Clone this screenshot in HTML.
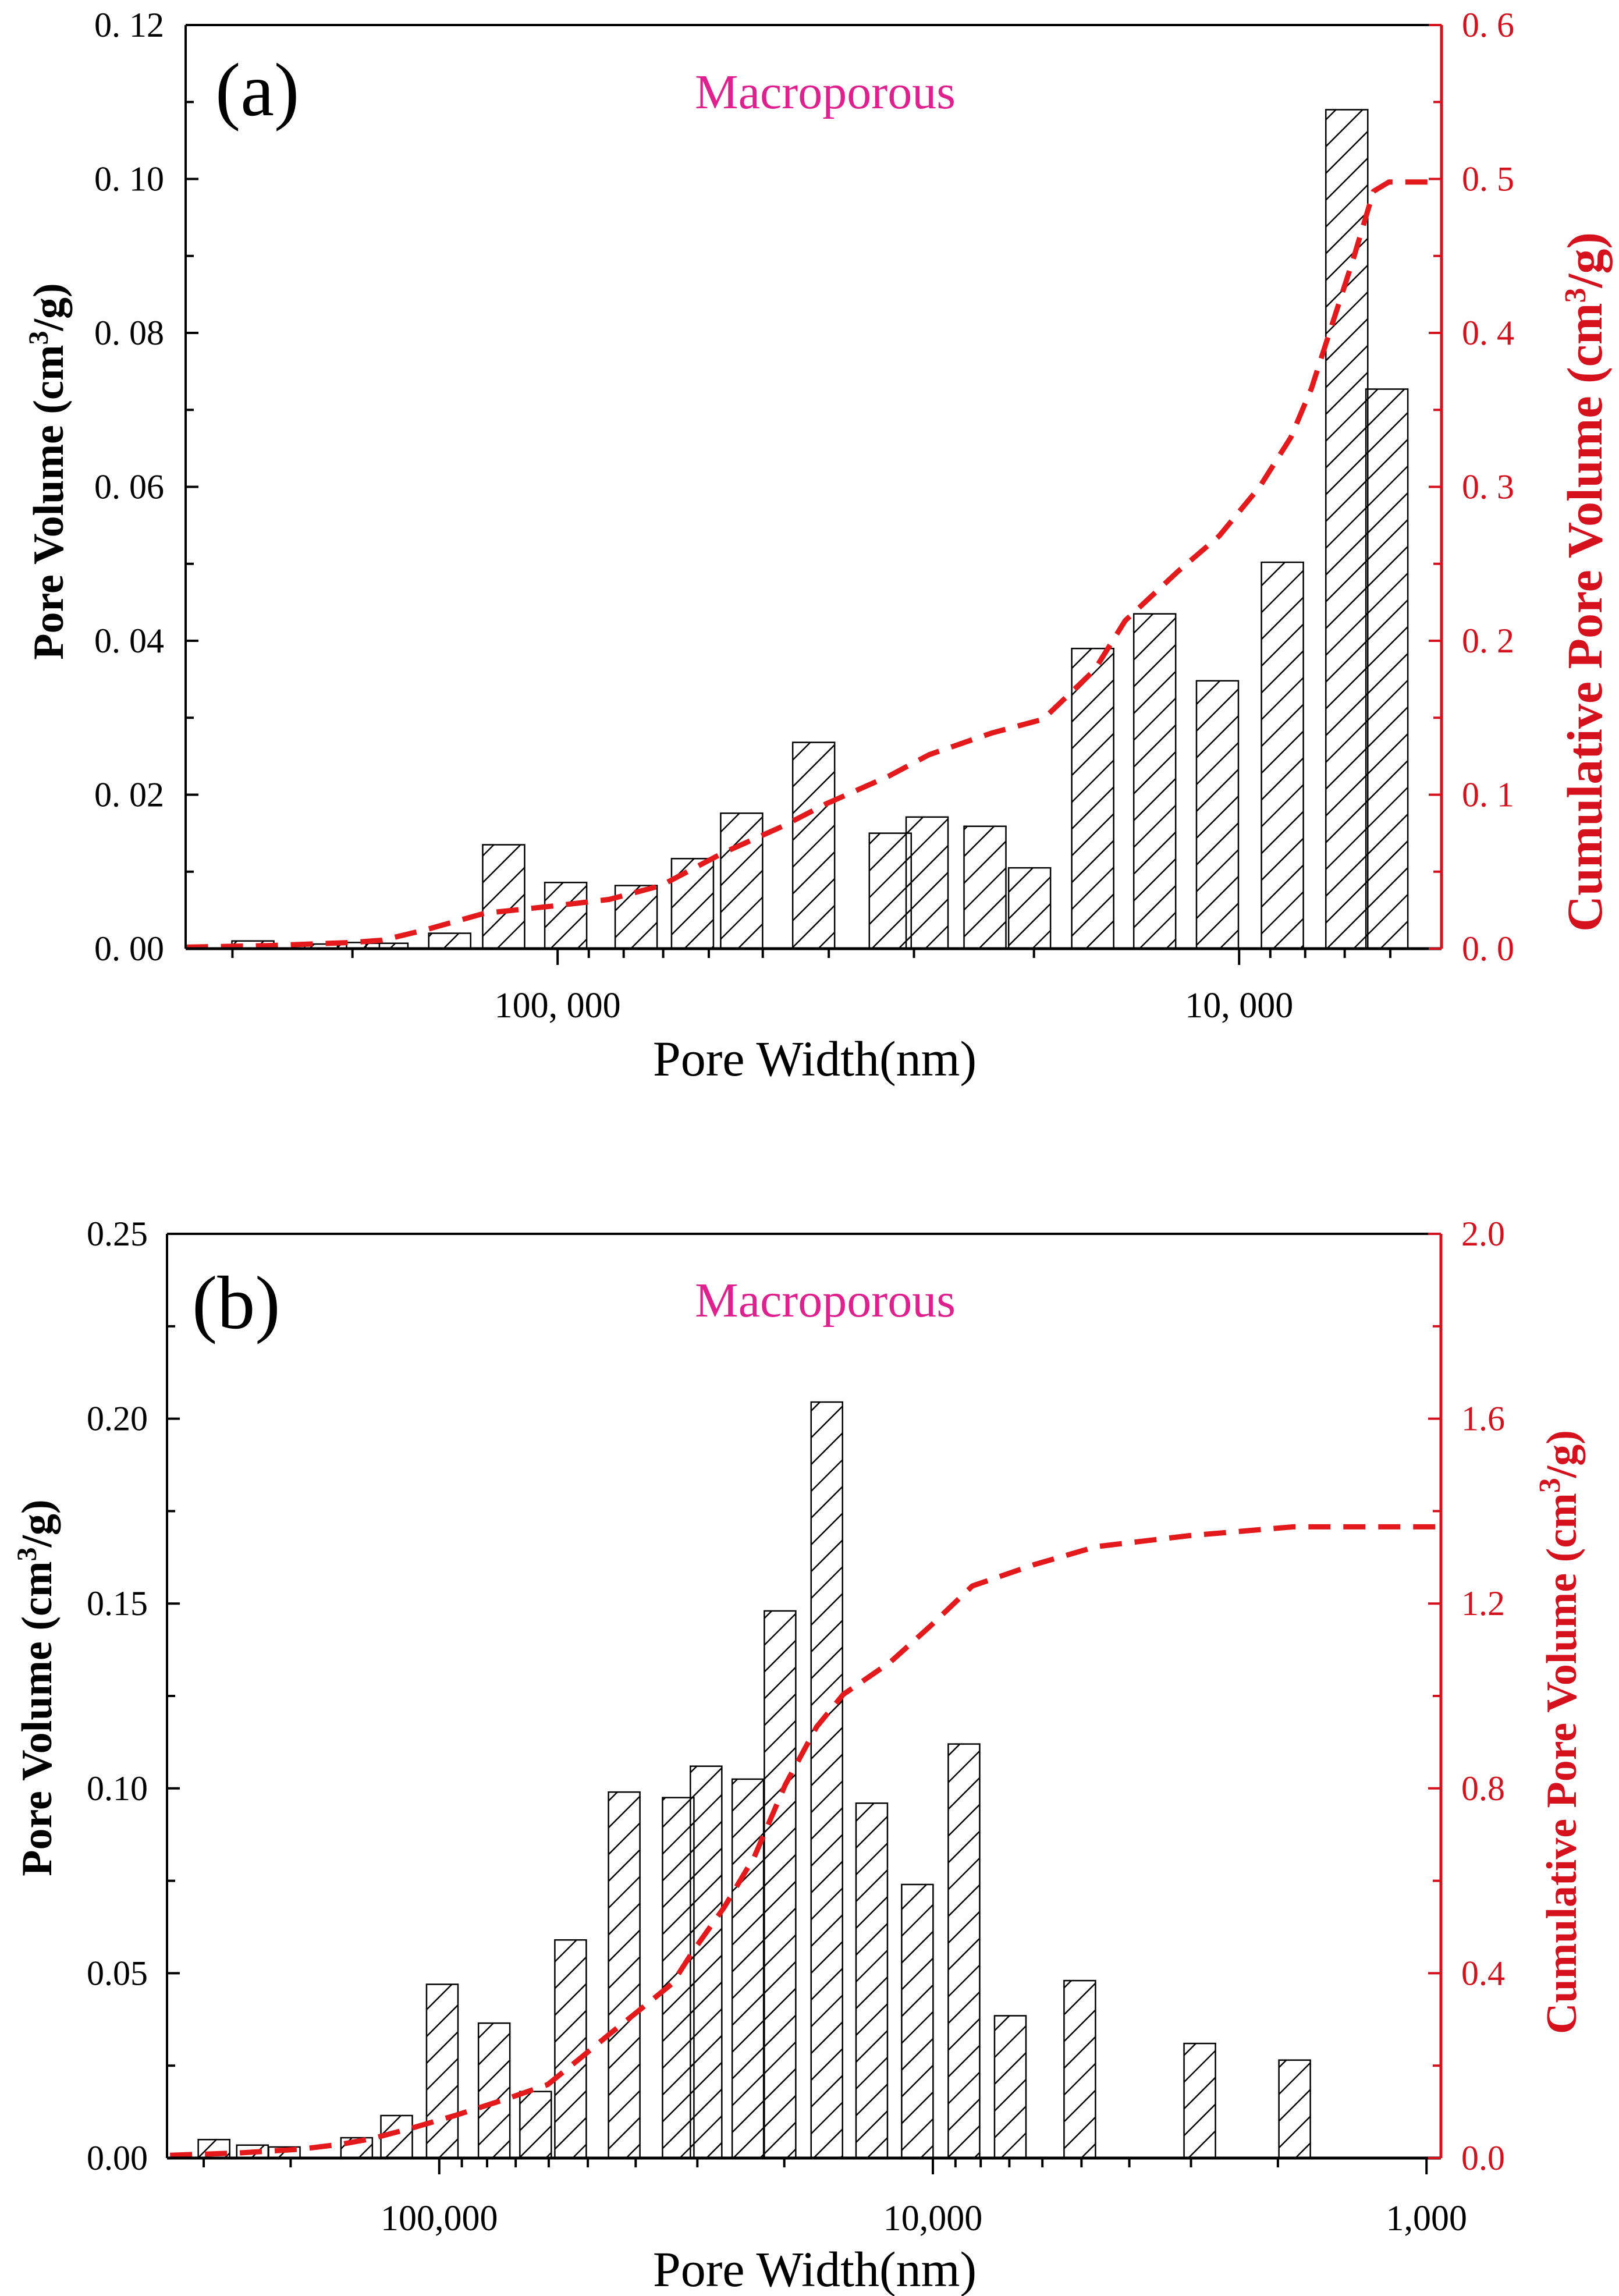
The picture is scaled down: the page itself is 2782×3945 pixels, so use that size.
<!DOCTYPE html>
<html><head><meta charset="utf-8"><style>
html,body{margin:0;padding:0;background:#fff;}
svg{display:block;font-family:"Liberation Serif","Times New Roman",serif;}
</style></head><body>
<svg id="fig" width="2782" height="3945" viewBox="0 0 2782 3945" xmlns="http://www.w3.org/2000/svg">
<defs>
<pattern id="hatch" patternUnits="userSpaceOnUse" width="46" height="46">
<line x1="-2" y1="48" x2="48" y2="-2" stroke="#000" stroke-width="2.5"/>
<line x1="-25" y1="25" x2="25" y2="-25" stroke="#000" stroke-width="2.5"/>
<line x1="21" y1="71" x2="71" y2="21" stroke="#000" stroke-width="2.5"/>
</pattern>
</defs>
</svg>
<script>
// ---- Panel (a) data ----
const widthsA = [280000,219000,196000,178000,144000,120000,97300,76700,63400,53700,42100,32500,28700,23600,20300,16400,13300,10760,8640,6950,6070];
const volumesA = [0.001,0.0006,0.0008,0.0007,0.002,0.0135,0.0086,0.0082,0.0117,0.0176,0.0268,0.0150,0.0171,0.0159,0.0105,0.0390,0.0435,0.0348,0.0502,0.1090,0.0727];
const cumWidthsA = [351000,265000,201000,181000,157000,128000,100000,84000,70500,57300,46500,40400,32700,28500,23100,19400,16300,14700,12300,10700,9330,8400,7830,7310,6810,6350,6030,5070];
const cumValuesA = [0.001,0.002,0.004,0.0055,0.012,0.023,0.028,0.032,0.041,0.062,0.080,0.094,0.112,0.126,0.140,0.149,0.181,0.213,0.245,0.268,0.300,0.332,0.364,0.405,0.447,0.492,0.498,0.498];
const leftTicksA = [0,0.02,0.04,0.06,0.08,0.10,0.12];
const leftLabelsA = ["0. 00","0. 02","0. 04","0. 06","0. 08","0. 10","0. 12"];
const rightTicksA = [0,0.1,0.2,0.3,0.4,0.5,0.6];
const rightLabelsA = ["0. 0","0. 1","0. 2","0. 3","0. 4","0. 5","0. 6"];
const xMajorA = [100000,10000];
const xLabelsA = ["100, 000","10, 000"];

// ---- Panel (b) data ----
const widthsB = [286000,239000,206000,147000,122000,98600,77400,63800,54200,42200,32800,28800,23700,20400,16400,13300,10750,8650,6970,5040,2880,1850];
const volumesB = [0.005,0.0035,0.003,0.0055,0.0115,0.047,0.0365,0.018,0.059,0.099,0.0975,0.106,0.1025,0.148,0.2045,0.096,0.074,0.112,0.0385,0.048,0.031,0.0265];
const cumWidthsB = [351000,256000,192000,158000,137000,112700,93000,73100,60300,52100,45100,39000,33700,30600,26500,23000,19900,17200,15200,12200,10100,8320,6240,4670,3020,1860,935];
const cumValuesB = [0.006,0.011,0.019,0.03,0.042,0.066,0.092,0.128,0.159,0.214,0.269,0.323,0.378,0.448,0.542,0.652,0.808,0.933,1.003,1.073,1.152,1.238,1.284,1.323,1.347,1.366,1.366];
const leftTicksB = [0,0.05,0.10,0.15,0.20,0.25];
const leftLabelsB = ["0.00","0.05","0.10","0.15","0.20","0.25"];
const rightTicksB = [0,0.4,0.8,1.2,1.6,2.0];
const rightLabelsB = ["0.0","0.4","0.8","1.2","1.6","2.0"];
const xMajorB = [100000,10000,1000];
const xLabelsB = ["100,000","10,000","1,000"];

const NS = "http://www.w3.org/2000/svg";
const svg = document.getElementById('fig');
function el(tag, attrs, parent, text){
  const e = document.createElementNS(NS, tag);
  for (const k in attrs) e.setAttribute(k, attrs[k]);
  if (text !== undefined) e.textContent = text;
  (parent||svg).appendChild(e);
  return e;
}

function panel(cfg){
  const g = el('g', {});
  
  
  const {L,R,T,B} = cfg;
  const lmax = Math.log10(cfg.xmax), lmin = Math.log10(cfg.xmin);
  const fx = w => L + (lmax - Math.log10(w)) / (lmax - lmin) * (R - L);
  const fy = v => B - v / cfg.ymax * (B - T);
  const fy2 = v => B - v / cfg.y2max * (B - T);

  const bg = el('g', {}, g);
  
  
  cfg.widths.forEach((w, i) => {
    const cx = fx(w), y = fy(cfg.vols[i]);
    const r = el('rect', {x: cx - cfg.bw/2, y: y, width: cfg.bw, height: B - y, fill: 'url(#hatch)', stroke: '#000', 'stroke-width': 2.5}, bg);
    
    
  });

  const pts = cfg.cumW.map((w, i) => fx(w).toFixed(1) + ',' + fy2(cfg.cumV[i]).toFixed(1)).join(' ');
  const pl = el('polyline', {points: pts, fill: 'none', stroke: '#e3191c', 'stroke-width': 9, 'stroke-dasharray': '38 22', 'stroke-linejoin': 'round'}, g);
  
  

  el('line', {x1: L, y1: T, x2: R, y2: T, stroke: '#000', 'stroke-width': 4}, g);
  el('line', {x1: L, y1: T, x2: L, y2: B, stroke: '#000', 'stroke-width': 4}, g);
  el('line', {x1: L, y1: B, x2: R, y2: B, stroke: '#000', 'stroke-width': 5}, g);
  el('line', {x1: R, y1: T, x2: R, y2: B, stroke: '#d4111d', 'stroke-width': 5}, g);

  for (let i = 0; i < cfg.lt.length; i++){
    const y = fy(cfg.lt[i]);
    el('line', {x1: L, y1: y, x2: L + 22, y2: y, stroke: '#000', 'stroke-width': 4}, g);
    if (i < cfg.lt.length - 1){
      const ym = fy((cfg.lt[i] + cfg.lt[i+1]) / 2);
      el('line', {x1: L, y1: ym, x2: L + 14, y2: ym, stroke: '#000', 'stroke-width': 4}, g);
    }
    const t = el('text', {x: cfg.lLabX, y: y + 20, 'text-anchor': 'end', 'font-size': 60, fill: '#000'}, g, cfg.ll[i]);
    
    
  }
  for (let i = 0; i < cfg.rt.length; i++){
    const y = fy2(cfg.rt[i]);
    el('line', {x1: R, y1: y, x2: R - 22, y2: y, stroke: '#d4111d', 'stroke-width': 4}, g);
    if (i < cfg.rt.length - 1){
      const ym = fy2((cfg.rt[i] + cfg.rt[i+1]) / 2);
      el('line', {x1: R, y1: ym, x2: R - 14, y2: ym, stroke: '#d4111d', 'stroke-width': 4}, g);
    }
    const t = el('text', {x: R + 35, y: y + 20, 'font-size': 60, fill: '#d4111d'}, g, cfg.rl[i]);
    
    
  }
  const dmax = Math.floor(lmax), dmin = Math.floor(lmin);
  for (let d = dmin; d <= dmax; d++){
    for (let m = 1; m <= 9; m++){
      const w = m * Math.pow(10, d);
      if (w > cfg.xmax || w < cfg.xmin * 0.999) continue;
      const x = fx(w);
      el('line', {x1: x, y1: B, x2: x, y2: B + (m === 1 ? 28 : 16), stroke: '#000', 'stroke-width': 4}, g);
    }
  }
  cfg.xm.forEach((w, i) => {
    const t = el('text', {x: fx(w), y: cfg.xLabY, 'text-anchor': 'middle', 'font-size': 62, fill: '#000'}, g, cfg.xl[i]);
    
    
  });

  const xt = el('text', {x: 1400, y: cfg.xTitleY, 'text-anchor': 'middle', 'font-size': 86, fill: '#000'}, g, 'Pore Width(nm)');
  
  

  const yt = el('text', {x: 0, y: 0, 'text-anchor': 'middle', 'font-size': 74, 'font-weight': 'bold', fill: '#000', transform: `translate(${cfg.yTitleX},${cfg.yTitleCY}) rotate(-90)`}, g);
  
  
  yt.innerHTML = 'Pore Volume (cm<tspan dy="-26" font-size="48">3</tspan><tspan dy="26">/g)</tspan>';

  const rt = el('text', {x: 0, y: 0, 'text-anchor': 'middle', 'font-size': cfg.y2Font, 'font-weight': 'bold', fill: '#d4111d', transform: `translate(${cfg.y2TitleX},${cfg.y2TitleCY}) rotate(-90)`}, g);
  
  
  rt.innerHTML = 'Cumulative Pore Volume (cm<tspan dy="-28" font-size="52">3</tspan><tspan dy="28">/g)</tspan>';

  const pl2 = el('text', {x: cfg.tagX, y: cfg.tagY, 'font-size': 130, fill: '#000'}, g, cfg.tag);
  
  
  const mp = el('text', {x: 1418, y: cfg.macroY, 'text-anchor': 'middle', 'font-size': 84, fill: '#e0208f'}, g, 'Macroporous');
  
  
}

panel({name: 'panel-a', L: 319, R: 2477, T: 43, B: 1630, xmax: 351400, xmin: 5047, ymax: 0.12, y2max: 0.6, bw: 72,
  widths: widthsA, vols: volumesA, cumW: cumWidthsA, cumV: cumValuesA,
  lt: leftTicksA, ll: leftLabelsA, rt: rightTicksA, rl: rightLabelsA, xm: xMajorA, xl: xLabelsA,
  lLabX: 282, xLabY: 1748, xTitleY: 1848, yTitleX: 108, yTitleCY: 810, y2Font: 86, y2TitleX: 2752, y2TitleCY: 1000, tag: '(a)', tagX: 370, tagY: 198, macroY: 186});

panel({name: 'panel-b', L: 287, R: 2476, T: 2120, B: 3708, xmax: 356000, xmin: 935, ymax: 0.25, y2max: 2.0, bw: 54,
  widths: widthsB, vols: volumesB, cumW: cumWidthsB, cumV: cumValuesB,
  lt: leftTicksB, ll: leftLabelsB, rt: rightTicksB, rl: rightLabelsB, xm: xMajorB, xl: xLabelsB,
  lLabX: 254, xLabY: 3832, xTitleY: 3928, yTitleX: 88, yTitleCY: 2900, y2Font: 74, y2TitleX: 2708, y2TitleCY: 2976, tag: '(b)', tagX: 330, tagY: 2282, macroY: 2262});
</script>
</body></html>
